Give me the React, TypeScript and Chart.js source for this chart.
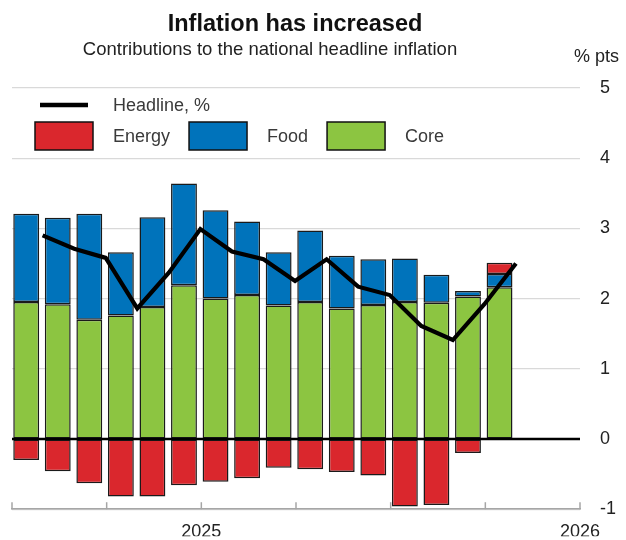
import React, { useEffect, useRef } from "react";
import { Chart, registerables } from "chart.js";

Chart.register(...registerables);

// ---------- data ----------
const months = [
  "2024-07", "2024-08", "2024-09", "2024-10", "2024-11", "2024-12",
  "2025-01", "2025-02", "2025-03", "2025-04", "2025-05", "2025-06",
  "2025-07", "2025-08", "2025-09", "2025-10",
];
const core = [1.95, 1.92, 1.70, 1.76, 1.88, 2.19, 2.00, 2.05, 1.90, 1.95, 1.86, 1.91, 1.95, 1.94, 2.03, 2.16];
const food = [1.26, 1.23, 1.51, 0.90, 1.28, 1.45, 1.26, 1.05, 0.76, 1.02, 0.75, 0.65, 0.62, 0.40, 0.08, 0.19];
const energy = [-0.30, -0.46, -0.63, -0.82, -0.82, -0.66, -0.61, -0.56, -0.41, -0.43, -0.47, -0.52, -0.96, -0.94, -0.20, 0.16];
const headline = [2.90, 2.71, 2.58, 1.86, 2.37, 2.99, 2.67, 2.56, 2.25, 2.56, 2.17, 2.05, 1.61, 1.41, 1.92, 2.50];

const axisStart = "2024-07";
const axisMonths = 18;
const yearTickMonths = [6, 18];
const yearTickLabels = ["2025", "2026"];
const yMin = -1;
const yMax = 5;

const TITLE = "Inflation has increased";
const SUBTITLE = "Contributions to the national headline inflation";
const UNIT = "% pts";

// ---------- styles ----------
const RED = "#DA272D";
const BLUE = "#0073BB";
const GREEN = "#8CC541";
const FONT = '"Liberation Sans", Arial, sans-serif';
const BAR_POS = 0.45; // mid-month observation
const LINE_POS = 0.97; // end-of-month observation

function monthIndex(ym: string) {
  const [y, m] = ym.split("-").map(Number);
  const [y0, m0] = axisStart.split("-").map(Number);
  return (y - y0) * 12 + (m - m0);
}

const decorPlugin = {
  id: "decor",
  afterDatasetsDraw(chart: any) {
    const { ctx, chartArea, scales } = chart;
    const y0 = scales.y.getPixelForValue(0);
    ctx.save();
    ctx.strokeStyle = "#000";
    ctx.lineWidth = 2.5;
    ctx.beginPath();
    ctx.moveTo(chartArea.left, y0);
    ctx.lineTo(chartArea.right, y0);
    ctx.stroke();
    ctx.restore();
  },
  afterDraw(chart: any) {
    const { ctx, chartArea, scales } = chart;
    ctx.save();
    // x tick marks (inward)
    ctx.strokeStyle = "#a6a6a6";
    ctx.lineWidth = 1.5;
    for (let v = 0; v <= axisMonths; v += 3) {
      const x = scales.x.getPixelForValue(v);
      ctx.beginPath();
      ctx.moveTo(x, chartArea.bottom);
      ctx.lineTo(x, chartArea.bottom - 7);
      ctx.stroke();
    }
    // titles
    ctx.fillStyle = "#111";
    ctx.textAlign = "center";
    ctx.textBaseline = "alphabetic";
    ctx.font = `bold 23.5px ${FONT}`;
    ctx.fillText(TITLE, 295, 31);
    ctx.font = `18.5px ${FONT}`;
    ctx.fillStyle = "#222";
    ctx.fillText(SUBTITLE, 270, 55);
    ctx.textAlign = "left";
    ctx.font = `18px ${FONT}`;
    ctx.fillText(UNIT, 574, 62);

    // legend
    const lx = chartArea.left;
    ctx.font = `18px ${FONT}`;
    ctx.textBaseline = "middle";
    ctx.fillStyle = "#3a3a3a";
    ctx.strokeStyle = "#000";
    ctx.lineWidth = 4.5;
    ctx.beginPath();
    ctx.moveTo(lx + 28, 105);
    ctx.lineTo(lx + 76, 105);
    ctx.stroke();
    ctx.fillText("Headline, %", lx + 101, 106);
    let x = lx + 23;
    const items = [
      ["Energy", RED],
      ["Food", BLUE],
      ["Core", GREEN],
    ];
    for (const [label, color] of items) {
      ctx.fillStyle = color;
      ctx.fillRect(x, 122, 58, 28);
      ctx.strokeStyle = "#111";
      ctx.lineWidth = 1.5;
      ctx.strokeRect(x, 122, 58, 28);
      ctx.fillStyle = "#3a3a3a";
      ctx.fillText(label, x + 78, 137);
      x += 78 + ctx.measureText(label).width + 19;
    }
    ctx.restore();
  },
};

export default function App() {
  const ref = useRef<HTMLCanvasElement>(null);
  useEffect(() => {
    if (!ref.current) return;
    Chart.defaults.font.family = FONT;
    const barPts = (vals: number[]) =>
      months.map((m, i) => ({ x: monthIndex(m) + BAR_POS, y: vals[i] }));
    const barStyle = {
      type: "bar" as const,
      stack: "contrib",
      borderColor: "#1a1a1a",
      borderWidth: 1.5,
      borderSkipped: false as const,
      barPercentage: 0.82,
      categoryPercentage: 1,
    };
    const chart = new Chart(ref.current, {
      type: "bar",
      data: {
        datasets: [
          {
            type: "line",
            label: "Headline, %",
            data: months.map((m, i) => ({ x: monthIndex(m) + LINE_POS, y: headline[i] })),
            borderColor: "#000",
            borderWidth: 4.2,
            pointRadius: 0,
            tension: 0,
            order: 0,
          } as any,
          { ...barStyle, label: "Core", data: barPts(core), backgroundColor: GREEN, order: 1 },
          { ...barStyle, label: "Food", data: barPts(food), backgroundColor: BLUE, order: 2 },
          { ...barStyle, label: "Energy", data: barPts(energy), backgroundColor: RED, order: 3 },
        ],
      },
      options: {
        responsive: false,
        animation: false,
        layout: { padding: { left: 12, top: 88, right: 0, bottom: 0 } },
        plugins: { legend: { display: false }, tooltip: { enabled: false }, title: { display: false } },
        scales: {
          x: {
            type: "linear",
            offset: false,
            min: 0,
            max: axisMonths,
            grid: { drawOnChartArea: false, drawTicks: false, offset: false },
            border: { display: true, color: "#a6a6a6", width: 1.5 },
            ticks: {
              stepSize: 3,
              autoSkip: false,
              maxRotation: 0,
              padding: 12,
              color: "#222",
              font: { size: 18 },
              callback: (v: any) => {
                const k = yearTickMonths.indexOf(Number(v));
                return k >= 0 ? yearTickLabels[k] : "";
              },
            },
            afterFit: (s: any) => {
              s.height = 27;
            },
          },
          y: {
            position: "right",
            stacked: true,
            min: yMin,
            max: yMax,
            grid: {
              drawTicks: false,
              color: (c: any) => (c.tick && c.tick.value === 0 ? "rgba(0,0,0,0)" : "#d9d9d9"),
              lineWidth: 1.2,
            },
            border: { display: false },
            ticks: { stepSize: 1, padding: 20, color: "#222", font: { size: 18 } },
            afterFit: (s: any) => {
              s.width = 46;
            },
          },
        },
      },
      plugins: [decorPlugin],
    });
    return () => chart.destroy();
  }, []);
  return (
    <div style={{ position: "fixed", left: 0, top: 0, width: 626, height: 540, background: "#fff" }}>
      <canvas ref={ref} width={626} height={540} />
    </div>
  );
}
